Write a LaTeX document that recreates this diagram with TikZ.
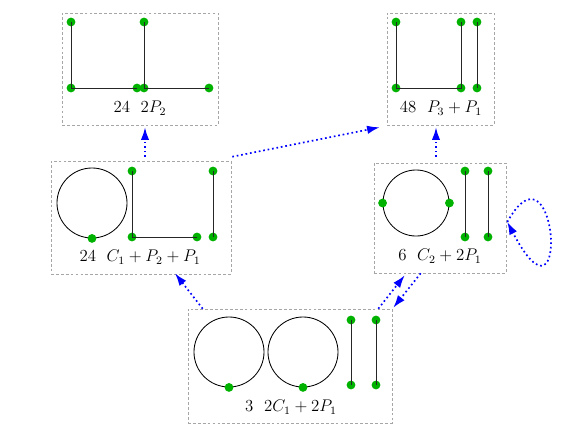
\documentclass[tikz,border=0pt]{standalone}
\usetikzlibrary{arrows.meta}

\tikzset{
  gbox/.style={draw=gray!70, dash pattern=on 2pt off 1.5pt, inner sep=0pt},
  vtx/.style={circle, fill=green!70!black, inner sep=0pt, minimum size=2.2mm},
  ring/.style={circle, draw, line width=0.6pt, inner sep=0pt},
  edge/.style={line width=0.7pt, black!85},
  lbl/.style={font=\fontsize{11.5}{14}\selectfont},
  flow/.style={blue, dotted, line width=1.2pt, -{Latex[length=9pt,width=6pt]}},
}

\begin{document}
\begin{tikzpicture}[x=0.025cm,y=-0.025cm]
\useasboundingbox (0,0) rectangle (581,436);

% boxes
\node[gbox, minimum width=3.9cm, minimum height=2.8cm] (g1) at (140,69) {};
\node[gbox, minimum width=2.675cm, minimum height=2.8cm] (g2) at (440.5,69) {};
\node[gbox, minimum width=4.5cm, minimum height=2.825cm] (g3) at (141,217.5) {};
\node[gbox, minimum width=3.3cm, minimum height=2.75cm] (g4) at (440,218) {};
\node[gbox, minimum width=5.1cm, minimum height=2.85cm] (g5) at (290,366) {};

% 2P_2
\node[vtx] (a1) at (71,22) {};
\node[vtx] (a2) at (71,88) {};
\node[vtx] (a3) at (137,88) {};
\node[vtx] (b1) at (144,22) {};
\node[vtx] (b2) at (144,88) {};
\node[vtx] (b3) at (209,88) {};
\draw[edge] (a1.center) -- (a2.center) -- (a3.center);
\draw[edge] (b1.center) -- (b2.center) -- (b3.center);
\node[lbl] (l1) at (140,108) {$24\ \ 2P_2$};

% P_3 + P_1
\node[vtx] (p1) at (396,22) {};
\node[vtx] (p2) at (396,88) {};
\node[vtx] (p3) at (461,88) {};
\node[vtx] (p4) at (461,22) {};
\node[vtx] (q1) at (477,22) {};
\node[vtx] (q2) at (477,88) {};
\draw[edge] (p1.center) -- (p2.center) -- (p3.center) -- (p4.center);
\draw[edge] (q1.center) -- (q2.center);
\node[lbl] (l2) at (441,108) {$48\ \ P_3+P_1$};

% C_1 + P_2 + P_1
\node[ring, minimum size=1.75cm] (r1) at (92,203) {};
\node[vtx] (r1v) at (r1.south) {};
\node[vtx] (s1) at (132,171) {};
\node[vtx] (s2) at (132,237) {};
\node[vtx] (s3) at (197,237) {};
\node[vtx] (t1) at (213,171) {};
\node[vtx] (t2) at (213,237) {};
\draw[edge] (s1.center) -- (s2.center) -- (s3.center);
\draw[edge] (t1.center) -- (t2.center);
\node[lbl] (l3) at (140,257) {$24\ \ C_1+P_2+P_1$};

% C_2 + 2P_1
\node[ring, minimum size=1.65cm] (r2) at (416,203) {};
\node[vtx] (r2w) at (r2.west) {};
\node[vtx] (r2e) at (r2.east) {};
\node[vtx] (u1) at (465,171) {};
\node[vtx] (u2) at (465,237) {};
\node[vtx] (w1) at (488,171) {};
\node[vtx] (w2) at (488,237) {};
\draw[edge] (u1.center) -- (u2.center);
\draw[edge] (w1.center) -- (w2.center);
\node[lbl] (l4) at (440,256) {$6\ \ C_2+2P_1$};

% 2C_1 + 2P_1
\node[ring, minimum size=1.75cm] (r3) at (229,352) {};
\node[ring, minimum size=1.75cm] (r4) at (303,352) {};
\node[vtx] (r3v) at (r3.south) {};
\node[vtx] (r4v) at (r4.south) {};
\node[vtx] (x1) at (351,320) {};
\node[vtx] (x2) at (351,385) {};
\node[vtx] (y1) at (376,320) {};
\node[vtx] (y2) at (376,385) {};
\draw[edge] (x1.center) -- (x2.center);
\draw[edge] (y1.center) -- (y2.center);
\node[lbl] (l5) at (291,407) {$3\ \ 2C_1+2P_1$};

% transitions
\draw[flow] ([shift={(4,-4)}]g3.north) -- ([shift={(5,2)}]g1.south);
\draw[flow] ([shift={(1,-4)}]g3.north east) -- ([shift={(-7,2)}]g2.south west);
\draw[flow] ([shift={(-4,-6)}]g4.north) -- ([shift={(-4.5,2)}]g2.south);
\draw[flow] ([shift={(15,0)}]g5.north west) -- ([shift={(34,-1)}]g3.south);
\draw[flow] ([shift={(-14,0)}]g5.north east) -- ([shift={(31,2)}]g4.south west);
\draw[flow] ([shift={(47,0)}]g4.south west) -- ([shift={(1,-1)}]g5.north east);
\draw[flow] ([shift={(1,4)}]g4.east) .. controls +(50,-90) and +(64,122) .. ([shift={(1,4)}]g4.east);
\end{tikzpicture}
\end{document}
